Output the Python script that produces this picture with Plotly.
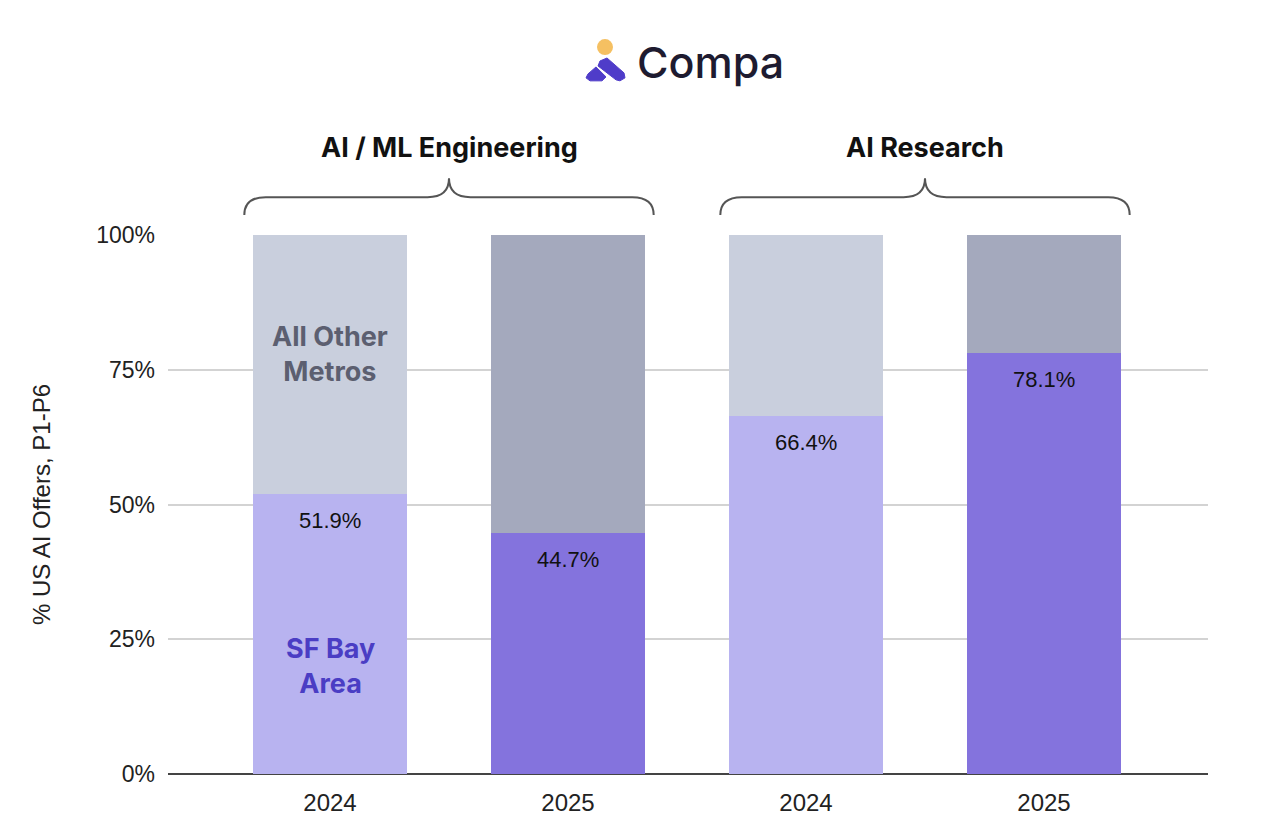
import plotly.graph_objects as go

# Data
groups = ["AI / ML Engineering", "AI Research"]
years = ["2024", "2025", "2024", "2025"]
sf_bay = [51.9, 44.7, 66.4, 78.1]
other_metros = [48.1, 55.3, 33.6, 21.9]
y_ticks = [0, 25, 50, 75, 100]

sf_colors = ["#b8b3f0", "#8473dd", "#b8b3f0", "#8473dd"]
other_colors = ["#c9cfdd", "#a4a9bd", "#c9cfdd", "#a4a9bd"]

# the page adds an 8px body margin, so the figure is shrunk to fit
OFF = 8
W, H = 1264 - 2 * OFF, 836 - 2 * OFF
L, R, T, B = 168 - OFF, W - (1208 - OFF), 235 - OFF, H - (777 - OFF)
PW, PH = W - L - R, H - T - B


def px(x):
    # screen pixel x -> paper x
    return (x - OFF - L) / PW


def py(y):
    # screen pixel y -> paper y
    return (H - B - (y - OFF)) / PH


xs = list(range(len(years)))
BAR_W = 0.65

fig = go.Figure()
fig.add_trace(go.Bar(x=xs, y=sf_bay, width=BAR_W, name="SF Bay Area",
                     marker=dict(color=sf_colors, line=dict(width=0)),
                     hoverinfo="skip"))
fig.add_trace(go.Bar(x=xs, y=other_metros, width=BAR_W, name="All Other Metros",
                     marker=dict(color=other_colors, line=dict(width=0)),
                     hoverinfo="skip"))

# value labels just below the top of each SF segment
for x, v in zip(xs, sf_bay):
    fig.add_annotation(x=x, y=v, text=f"{v:.1f}%", showarrow=False,
                       yshift=-26, yanchor="middle",
                       font=dict(family="Liberation Sans, Arial", size=22, color="#111111"))

# series labels inside the first bar
fig.add_annotation(x=0, y=78, text="<b>All Other<br>Metros</b>", showarrow=False,
                   font=dict(family="Inter", size=27, color="#5c5f70"))
fig.add_annotation(x=0, y=20, text="<b>SF Bay<br>Area</b>", showarrow=False,
                   font=dict(family="Inter", size=27, color="#4a3dc4"))

# group braces and titles
pad = 0.035
y_end, y_mid, y_tip = py(215), py(197), py(178)
for gi, g in enumerate(groups):
    x0 = xs[2 * gi] - BAR_W / 2 - pad
    x1 = xs[2 * gi + 1] + BAR_W / 2 + pad
    xm = (x0 + x1) / 2
    c = 0.09
    d = 0.09
    path = (f"M {x0} {y_end} Q {x0} {y_mid} {x0 + c} {y_mid} "
            f"L {xm - d} {y_mid} Q {xm} {y_mid} {xm} {y_tip} "
            f"Q {xm} {y_mid} {xm + d} {y_mid} "
            f"L {x1 - c} {y_mid} Q {x1} {y_mid} {x1} {y_end}")
    fig.add_shape(type="path", path=path, xref="x", yref="paper",
                  line=dict(color="#555555", width=2))
    fig.add_annotation(x=xm, xref="x", y=py(147), yref="paper", text=f"<b>{g}</b>",
                       showarrow=False, yanchor="middle",
                       font=dict(family="Inter", size=27, color="#111111"))

# logo
fig.add_annotation(x=px(710), y=py(61), xref="paper", yref="paper", text="Compa",
                   showarrow=False, yanchor="middle",
                   font=dict(family="Inter", size=43, color="#1e1b30", weight=500))
fig.add_shape(type="circle", xref="paper", yref="paper",
              x0=px(597), x1=px(613), y0=py(38), y1=py(54),
              fillcolor="#f5c062", line=dict(width=0))
fig.add_shape(type="path", xref="paper", yref="paper",
              path=(f"M {px(600)} {py(60)} L {px(607)} {py(57)} L {px(624)} {py(72)} "
                    f"L {px(625)} {py(77)} L {px(620)} {py(80)} L {px(616)} {py(79)} "
                    f"L {px(598)} {py(65)} Z"),
              fillcolor="#4f3cc9", line=dict(color="#4f3cc9", width=1))
fig.add_shape(type="path", xref="paper", yref="paper",
              path=(f"M {px(588)} {py(73)} L {px(596)} {py(66)} L {px(606)} {py(76)} "
                    f"L {px(602)} {py(80)} L {px(590)} {py(80)} L {px(586)} {py(77)} Z"),
              fillcolor="#4f3cc9", line=dict(color="#4f3cc9", width=1))

fig.update_layout(
    width=W, height=H,
    margin=dict(l=L, r=R, t=T, b=B),
    barmode="stack",
    bargap=0,
    showlegend=False,
    plot_bgcolor="white",
    paper_bgcolor="white",
    font=dict(family="Liberation Sans, Arial", size=22, color="#222222"),
)
fig.update_xaxes(range=[(168 - 330) / 238, (1208 - 330) / 238],
                 tickvals=xs, ticktext=years, showgrid=False, zeroline=False,
                 showline=False, ticks="", ticklabelstandoff=12,
                 tickfont=dict(size=24, color="#222222"))
fig.update_yaxes(range=[0, 100], tickvals=y_ticks,
                 ticktext=[f"{t}%" for t in y_ticks],
                 showgrid=True, gridcolor="#d3d3d3", gridwidth=2,
                 zeroline=True, zerolinecolor="#444444", zerolinewidth=2,
                 ticks="", ticklabelstandoff=12,
                 title=dict(text="% US AI Offers, P1-P6", standoff=38,
                            font=dict(size=24, color="#222222")),
                 tickfont=dict(size=23, color="#222222"))

fig.write_html("out.html")
